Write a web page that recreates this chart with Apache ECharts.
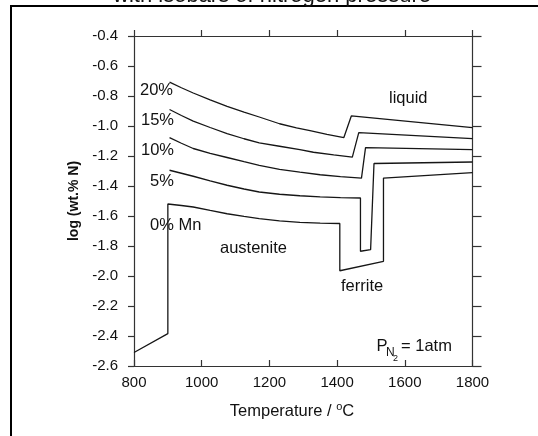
<!DOCTYPE html>
<html>
<head>
<meta charset="utf-8">
<script src="https://cdn.jsdelivr.net/npm/echarts@6/dist/echarts.min.js"></script>
<style>
  html, body { margin: 0; padding: 0; background: #fff; }
  #chart { width: 538px; height: 436px; }
</style>
</head>
<body>
<div id="chart"></div>
<script>
// Nitrogen solubility in Fe-Mn melts/solids vs temperature, one polyline per Mn content
// Each point: [temperature °C, log(wt.% N)]
const mn0 = [[800, -2.51], [900, -2.384], [900, -1.52], [940, -1.53], [975, -1.54], [1025, -1.563],
  [1075, -1.585], [1125, -1.603], [1170, -1.617], [1230, -1.632], [1290, -1.643], [1350, -1.648],
  [1408, -1.65], [1408, -1.965], [1537, -1.902], [1537, -1.347], [1800, -1.311]];
const mn5 = [[905, -1.295], [940, -1.315], [975, -1.335], [1025, -1.366], [1075, -1.395], [1125, -1.42],
  [1170, -1.44], [1230, -1.455], [1290, -1.465], [1350, -1.472], [1410, -1.477],
  [1469, -1.48], [1469, -1.835], [1499, -1.824], [1509, -1.25], [1800, -1.24]];
const mn10 = [[905, -1.077], [940, -1.115], [975, -1.15], [1025, -1.182], [1075, -1.21], [1125, -1.238],
  [1170, -1.262], [1230, -1.289], [1290, -1.308], [1350, -1.325], [1410, -1.338],
  [1472, -1.348], [1484, -1.144], [1800, -1.157]];
const mn15 = [[905, -0.89], [940, -0.93], [975, -0.967], [1025, -1.01], [1075, -1.051], [1125, -1.085],
  [1170, -1.113], [1230, -1.135], [1290, -1.158], [1330, -1.175], [1390, -1.193],
  [1445, -1.207], [1464, -1.044], [1800, -1.084]];
const mn20 = [[905, -0.707], [940, -0.745], [975, -0.78], [1025, -0.826], [1075, -0.869], [1125, -0.907],
  [1170, -0.94], [1230, -0.985], [1280, -1.012], [1320, -1.031], [1370, -1.056],
  [1420, -1.077], [1442, -0.933], [1800, -1.011]];

const curves = [mn0, mn5, mn10, mn15, mn20];
const curveNames = ['0% Mn', '5%', '10%', '15%', '20%'];

const xTicks = { min: 800, max: 1800, step: 200 };
const yTicks = { min: -2.6, max: -0.4, step: 0.2 };

const FONT = '"Liberation Sans", Arial, Helvetica, sans-serif';
const INK = '#111';
const AXIS = '#333';

function label(text, x, y, size, extra) {
  return Object.assign({
    type: 'text', x: x, y: y, silent: true,
    style: { text: text, fontSize: size, fontFamily: FONT, fill: INK, align: 'left', verticalAlign: 'middle' }
  }, extra || {});
}

const chart = echarts.init(document.getElementById('chart'), null, { renderer: 'canvas' });

const axisLineStyle = { show: true, lineStyle: { color: AXIS, width: 1.2 } };

chart.setOption({
  animation: false,
  backgroundColor: '#fff',
  grid: { left: 134, top: 36, width: 338.5, height: 330, containLabel: false },
  xAxis: [
    {
      type: 'value', position: 'bottom', min: xTicks.min, max: xTicks.max, interval: xTicks.step,
      axisLine: axisLineStyle,
      axisTick: { show: true, inside: true, length: 6, lineStyle: { color: AXIS, width: 1.2 } },
      axisLabel: { fontSize: 15, fontFamily: FONT, color: INK, margin: 9, formatter: v => String(v) },
      splitLine: { show: false }
    },
    {
      type: 'value', position: 'top', min: xTicks.min, max: xTicks.max, interval: xTicks.step,
      axisLine: axisLineStyle,
      axisTick: { show: true, inside: false, length: 6, lineStyle: { color: AXIS, width: 1.2 } },
      axisLabel: { show: false },
      splitLine: { show: false }
    }
  ],
  yAxis: [
    {
      type: 'value', position: 'left', min: yTicks.min, max: yTicks.max, interval: yTicks.step,
      axisLine: axisLineStyle,
      axisTick: { show: true, inside: false, length: 6, lineStyle: { color: AXIS, width: 1.2 } },
      axisLabel: { fontSize: 15, fontFamily: FONT, color: INK, margin: 16,
        formatter: v => v.toFixed(1) },
      splitLine: { show: false },
      name: 'log (wt.% N)', nameLocation: 'middle', nameGap: 52, nameRotate: 90,
      nameTextStyle: { fontSize: 14, fontWeight: 'bold', fontFamily: FONT, color: INK }
    },
    {
      type: 'value', position: 'right', min: yTicks.min, max: yTicks.max, interval: yTicks.step,
      axisLine: axisLineStyle,
      axisTick: { show: true, inside: false, length: 9, lineStyle: { color: AXIS, width: 1.2 } },
      axisLabel: { show: false },
      splitLine: { show: false }
    }
  ],
  series: curves.map((pts, i) => ({
    type: 'line', name: curveNames[i], data: pts, xAxisIndex: 0, yAxisIndex: 0,
    showSymbol: false, smooth: false, silent: true,
    lineStyle: { color: '#161616', width: 1.3 }
  })),
  graphic: [
    // page frame
    { type: 'line', silent: true, shape: { x1: 11, y1: 6, x2: 11, y2: 436 }, style: { stroke: '#000', lineWidth: 2 } },
    { type: 'line', silent: true, shape: { x1: 10, y1: 6, x2: 538, y2: 6 }, style: { stroke: '#000', lineWidth: 2 } },
    // heading running off the top edge
    label('with isobars of nitrogen pressure', 272, -4.5, 22, { style: { text: 'with isobars of nitrogen pressure', fontSize: 22, fontFamily: FONT, fill: INK, align: 'center', verticalAlign: 'middle' } }),
    // curve labels
    label('20%', 140, 90, 16.5),
    label('15%', 141, 120, 16.5),
    label('10%', 141, 150, 16.5),
    label('5%', 150, 181, 16.5),
    label('0% Mn', 150, 225, 16.5),
    // phase regions
    label('liquid', 389, 98, 16.5),
    label('austenite', 220, 248, 16.5),
    label('ferrite', 341, 286, 16.5),
    // pressure note
    label('P', 376.5, 346, 16.5),
    label('N', 386, 353, 12),
    label('2', 393, 358.5, 9),
    label('= 1atm', 401, 346, 16.5),
    // x axis title
    {
      type: 'text', silent: true, x: 292, y: 411,
      style: {
        text: '{a|Temperature / }{s|o}{a|C}', fontFamily: FONT, fill: INK, align: 'center', verticalAlign: 'middle',
        rich: {
          a: { fontSize: 16.5, fontFamily: FONT, color: INK },
          s: { fontSize: 11, fontFamily: FONT, color: INK, padding: [0, 0, 9, 0] }
        }
      }
    }
  ]
});
</script>
</body>
</html>
